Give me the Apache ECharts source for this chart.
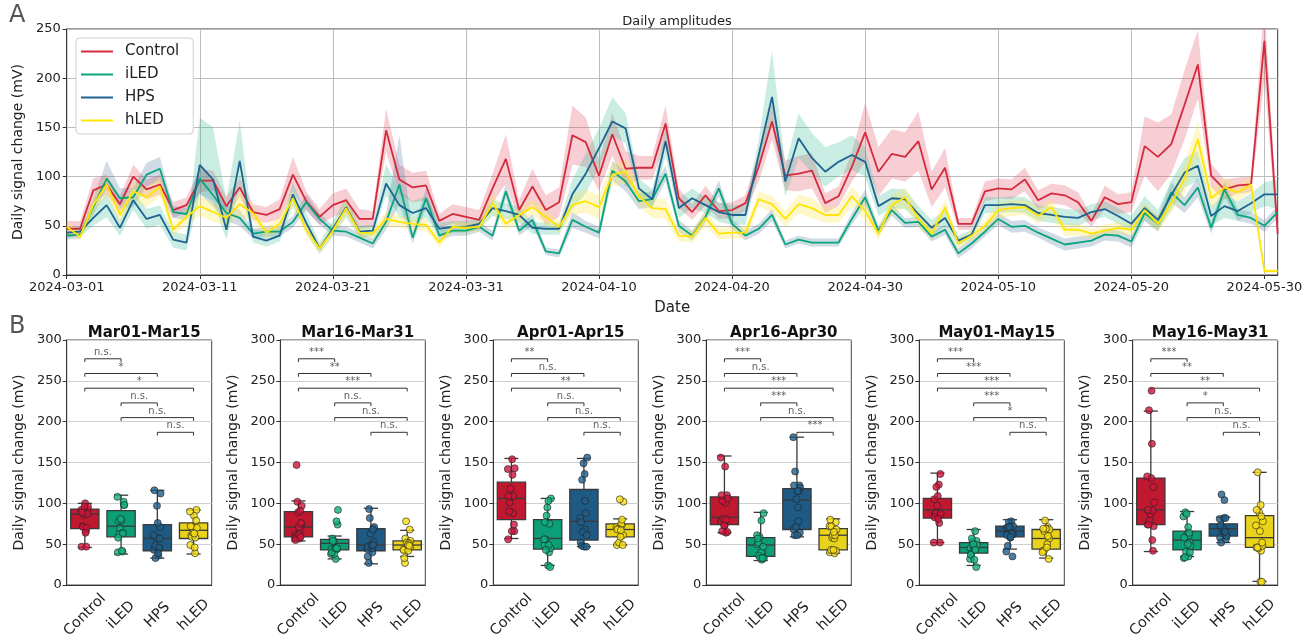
<!DOCTYPE html>
<html><head><meta charset="utf-8">
<script src="https://cdn.jsdelivr.net/npm/echarts@6/dist/echarts.min.js"></script>
<style>html,body{margin:0;padding:0;background:#fff}#c{width:1315px;height:641px}</style>
</head><body><div id="c"></div>
<script>
// ---------------- DATA ----------------
const startDate = '2024-03-01';
const nDays = 92;
const groups = ['Control', 'iLED', 'HPS', 'hLED'];

const ctl = [47,47,86,92,72,100,87,92,66,71, 96,96,70,89,64,61,67,102,75,59, 71,76,57,57,147,97,89,91,55,62,
  59,56,88,118,66,90,66,74,142,135, 101,143,108,109,109,154,78,64,81,65, 66,73,110,156,101,103,106,73,80,110,
  145,105,123,120,136,87,109,52,52,85, 88,87,97,76,83,81,74,55,79,72, 74,131,120,133,173,214,101,87,91,92, 238,42];
const iled = [40,41,69,98,78,79,102,108,64,62, 98,81,63,58,42,44,44,54,74,57, 45,44,38,32,54,92,38,78,40,45,
  45,49,40,85,45,56,24,22,56,49, 43,106,95,75,77,103,50,40,59,88, 52,40,47,61,31,36,33,33,33,57,
  79,45,66,53,54,39,46,22,32,44, 57,49,50,43,37,31,33,35,41,40, 34,63,52,84,71,89,48,87,61,58, 50,64];
const hps = [43,44,58,71,48,76,57,61,36,33, 112,97,46,116,39,35,40,82,53,27, 47,69,44,45,93,71,63,68,47,49,
  49,52,68,65,61,48,47,47,82,103, 129,156,149,88,77,136,68,78,71,64, 61,61,122,181,95,139,119,105,115,122,
  115,70,78,77,62,48,58,35,41,71, 71,72,71,63,61,59,58,64,67,60, 52,68,56,81,104,111,60,70,65,73, 82,82];
const hled = [49,39,71,92,61,85,79,90,46,59, 70,64,58,72,63,43,52,78,46,27, 45,68,43,42,57,54,52,51,33,49,
  48,49,73,52,61,69,59,49,71,75, 69,102,105,80,68,67,40,39,58,42, 43,43,77,72,57,72,68,61,61,80,
  65,42,71,79,57,42,69,32,40,50, 66,68,69,60,69,46,46,42,45,48, 46,66,52,73,98,138,78,89,84,92, 4,4];

// confidence band offsets (below / above the mean)
const ctlErr = [8,8,12,10,8,12,10,10,8,8, 12,10,10,10,8,8,10,18,10,8, 12,12,10,8,22,15,15,15,7,10,
  10,10,15,25,10,18,15,15,30,25, 15,22,18,12,12,18,10,8,10,8, 8,8,15,18,15,18,18,10,10,15,
  30,25,25,25,30,18,20,6,6,10, 10,10,12,10,10,10,10,6,12,10, 10,30,35,30,35,35,12,10,8,8, 40,10];
const iledErrLo = [4,4,8,10,10,10,12,12,6,6, 15,12,8,8,5,5,5,6,8,6, 5,5,5,5,8,20,6,10,5,5,
  5,5,5,8,5,6,4,4,8,6, 6,10,10,8,8,8,6,5,6,8, 5,5,5,6,4,4,4,4,4,6,
  8,5,6,5,5,5,5,5,5,5, 6,6,6,5,6,6,6,6,6,6, 6,8,8,10,8,10,6,8,6,6, 6,6];
const iledErrHi = [4,4,8,18,10,10,12,12,6,6, 15,12,8,8,5,5,5,6,8,6, 5,5,5,5,8,50,6,10,5,5,
  5,5,5,8,5,6,4,4,8,6, 6,10,10,8,8,8,6,5,6,8, 5,5,5,6,4,4,4,4,4,6,
  8,5,6,5,5,5,5,5,5,5, 6,6,6,5,6,6,6,6,6,6, 6,8,8,10,8,10,6,8,6,6, 6,6];
const hpsErrLo = [5,5,8,12,8,10,10,10,8,8, 30,22,10,25,6,6,6,12,10,6, 8,10,6,6,12,12,10,10,6,6,
  6,6,8,8,8,6,6,6,15,20, 20,15,15,10,10,15,10,10,8,10, 10,10,15,26,15,20,15,15,15,15,
  15,10,10,10,8,8,8,5,5,8, 8,8,8,8,8,8,8,8,8,8, 8,12,10,15,15,15,10,12,10,10, 12,15];
const hpsErrHi = [5,5,8,12,8,10,10,10,8,8, 48,53,30,41,8,8,8,12,10,6, 8,10,6,6,20,15,12,12,6,6,
  6,6,8,8,8,6,6,6,15,20, 20,25,15,10,10,15,10,10,8,10, 10,10,15,47,15,25,25,25,20,20,
  15,10,10,10,8,8,8,5,5,8, 8,8,8,8,8,8,8,8,8,8, 8,12,10,15,15,15,10,12,10,10, 12,15];
const hledErr = [6,5,8,10,8,10,10,10,6,8, 10,10,8,12,8,6,8,8,6,5, 6,8,5,5,8,6,6,6,5,5,
  5,5,10,6,8,8,8,6,10,12, 12,12,12,10,10,10,6,6,8,6, 6,6,8,8,8,10,10,8,8,10,
  10,6,10,10,8,6,8,5,5,6, 8,8,8,8,8,6,6,5,6,6, 6,8,8,10,15,18,10,10,8,8, 2,2];

// half-month periods
const periods = ['Mar01-Mar15', 'Mar16-Mar31', 'Apr01-Apr15', 'Apr16-Apr30', 'May01-May15', 'May16-May31'];
const periodStart = [0, 15, 31, 46, 61, 76];
const periodEnd = [15, 31, 46, 61, 76, 92];

// box statistics [min whisker, Q1, median, Q3, max whisker] per period
const boxCtl = [[46,69,87,93,100],[54,59,71,90,103],[57,80,106,126,155],[64,74,83,108,158],[52,82,92,106,137],[41,74,92,131,213]];
const boxIled = [[38,59,72,91,110],[32,43,51,56,60],[24,44,57,80,106],[30,35,49,58,89],[24,39,46,52,68],[35,43,55,66,90]];
const boxHps = [[33,42,57,74,116],[26,42,49,69,94],[47,55,78,117,155],[59,68,104,118,181],[44,59,66,72,80],[52,60,69,75,83]];
const boxHled = [[38,57,67,76,92],[35,43,49,54,67],[49,59,68,75,81],[39,43,61,69,81],[33,44,57,68,80],[4.5,46,58,85,138]];

// significance labels: pairs C-i, C-H, C-h, i-H, i-h, H-h
const sigLabels = [
  ['n.s.','*','*','n.s.','n.s.','n.s.'],
  ['***','**','***','n.s.','n.s.','n.s.'],
  ['**','n.s.','**','n.s.','n.s.','n.s.'],
  ['***','n.s.','***','***','n.s.','***'],
  ['***','***','***','***','*','n.s.'],
  ['***','**','**','*','n.s.','n.s.']
];

// ---------------- BUILD ----------------
const dates = [];
{
  const t0 = Date.parse(startDate + 'T00:00:00Z');
  for (let i = 0; i < nDays; i++) dates.push(new Date(t0 + i * 86400000).toISOString().slice(0, 10));
}
const FONT = 'DejaVu Sans';
const lineColors = ['#d42a3c', '#08a67c', '#1f6391', '#ffe500'];
const bandColors = ['rgba(225,80,100,0.28)', 'rgba(70,110,150,0.25)', 'rgba(40,185,140,0.25)', 'rgba(250,230,90,0.32)'];
const boxColors = ['#c0182f', '#0b9e77', '#1f5a84', '#e8d21c'];
const ptColors = ['#d0143a', '#10b07f', '#1f5e8a', '#f7dd10'];
const EDGE = '#3a3a3a';
const vals = [ctl, iled, hps, hled];
const errLo = [ctlErr, iledErrLo, hpsErrLo, hledErr];
const errHi = [ctlErr, iledErrHi, hpsErrHi, hledErr];
const boxes = [boxCtl, boxIled, boxHps, boxHled];

const grid = [{left: 66.7, top: 29, width: 1211, height: 246, show: true, borderColor: '#333', borderWidth: 1}];
const xAxis = [{
  gridIndex: 0, type: 'category', data: dates, boundaryGap: false,
  name: 'Date', nameLocation: 'middle', nameGap: 26, nameTextStyle: {fontSize: 15, color: '#222', fontFamily: FONT},
  axisLine: {lineStyle: {color: '#333'}},
  axisTick: {interval: (i) => i % 10 === 0, length: 4, lineStyle: {color: '#333'}},
  axisLabel: {interval: (i) => i % 10 === 0, fontSize: 13, color: '#222', margin: 6, fontFamily: FONT},
  splitLine: {show: true, interval: (i) => i % 10 === 0, lineStyle: {color: '#bdbdbd', width: 1}}
}];
const yAxis = [{
  gridIndex: 0, type: 'value', min: 0, max: 250, interval: 50,
  name: 'Daily signal change (mV)', nameLocation: 'middle', nameGap: 40,
  nameTextStyle: {fontSize: 14, color: '#222', fontFamily: FONT},
  axisLine: {show: true, onZero: false, lineStyle: {color: '#333'}},
  axisTick: {show: true, length: 4, lineStyle: {color: '#333'}},
  axisLabel: {fontSize: 13, color: '#222', margin: 6, fontFamily: FONT},
  splitLine: {lineStyle: {color: '#bdbdbd', width: 1}}
}];
const series = [];
// bands (lower edge + stacked span)
for (let g = 0; g < 4; g++) {
  const lo = vals[g].map((v, i) => v - errLo[g][i]);
  const span = vals[g].map((v, i) => errLo[g][i] + errHi[g][i]);
  series.push({type: 'line', name: 'band' + g, stack: 'band' + g, data: lo, symbol: 'none', silent: true,
    lineStyle: {opacity: 0}, xAxisIndex: 0, yAxisIndex: 0, z: 1});
  series.push({type: 'line', name: 'band' + g, stack: 'band' + g, data: span, symbol: 'none', silent: true,
    lineStyle: {opacity: 0}, areaStyle: {color: bandColors[g], opacity: 1}, xAxisIndex: 0, yAxisIndex: 0, z: 1});
}
for (let g = 0; g < 4; g++) {
  series.push({type: 'line', name: groups[g], data: vals[g], symbol: 'none', showSymbol: false, xAxisIndex: 0, yAxisIndex: 0,
    lineStyle: {color: lineColors[g], width: 1.8}, itemStyle: {color: lineColors[g]}, z: 3});
}

// bottom panels
const panelLeft = [66.7, 280.3, 493.3, 706.3, 919.3, 1132.7];
const PW = 145;
const pairs = [[0,1],[0,2],[0,3],[1,2],[1,3],[2,3]];
const levels = [277, 259, 241, 223, 205, 187];
const JIT = [-0.09,0.04,-0.03,0.08,-0.06,0.01,0.07,-0.1,0.03,-0.05,0.09,-0.01,0.05,-0.08,0.02,0.06];
const titles = [{text: 'Daily amplitudes', left: 672, top: 10, textAlign: 'center',
  textStyle: {fontSize: 13, fontWeight: 'normal', color: '#222', fontFamily: FONT}}];

function renderBox(params, api) {
  const x = api.value(0);
  const pMin = api.coord([x, api.value(1)]);
  const pQ1 = api.coord([x, api.value(2)]);
  const pMed = api.coord([x, api.value(3)]);
  const pQ3 = api.coord([x, api.value(4)]);
  const pMax = api.coord([x, api.value(5)]);
  const w = api.size([0.78, 0])[0];
  const cw = w / 2;
  const cx = pMin[0];
  const st = {stroke: EDGE, lineWidth: 1.3};
  return {type: 'group', children: [
    {type: 'line', shape: {x1: cx, y1: pMin[1], x2: cx, y2: pQ1[1]}, style: st},
    {type: 'line', shape: {x1: cx, y1: pQ3[1], x2: cx, y2: pMax[1]}, style: st},
    {type: 'line', shape: {x1: cx - cw / 2, y1: pMin[1], x2: cx + cw / 2, y2: pMin[1]}, style: st},
    {type: 'line', shape: {x1: cx - cw / 2, y1: pMax[1], x2: cx + cw / 2, y2: pMax[1]}, style: st},
    {type: 'rect', shape: {x: cx - w / 2, y: pQ3[1], width: w, height: pQ1[1] - pQ3[1]},
      style: {fill: boxColors[params.dataIndex], stroke: EDGE, lineWidth: 1.3}},
    {type: 'line', shape: {x1: cx - w / 2, y1: pMed[1], x2: cx + w / 2, y2: pMed[1]}, style: st}
  ]};
}

for (let k = 0; k < 6; k++) {
  const gi = k + 1;
  grid.push({left: panelLeft[k], top: 340, width: PW, height: 246, show: true, borderColor: '#444', borderWidth: 1});
  const cxi = xAxis.length;
  xAxis.push({gridIndex: gi, type: 'category', data: groups,
    axisLine: {onZero: false, lineStyle: {color: '#333'}},
    axisTick: {alignWithLabel: true, length: 4, lineStyle: {color: '#333'}},
    axisLabel: {rotate: 45, align: 'center', verticalAlign: 'middle', margin: 30, fontSize: 14.5, color: '#222', fontFamily: FONT},
    splitLine: {show: false}});
  const vx = xAxis.length;
  xAxis.push({gridIndex: gi, type: 'value', min: -0.5, max: 3.5, show: false});
  const yi = yAxis.length;
  yAxis.push({gridIndex: gi, type: 'value', min: 0, max: 300, interval: 50,
    name: 'Daily signal change (mV)', nameLocation: 'middle', nameGap: 40,
    nameTextStyle: {fontSize: 14, color: '#222', fontFamily: FONT},
    axisLine: {show: true, onZero: false, lineStyle: {color: '#333'}},
    axisTick: {show: true, length: 4, lineStyle: {color: '#333'}},
    axisLabel: {fontSize: 13, color: '#222', margin: 5, fontFamily: FONT},
    splitLine: {lineStyle: {color: '#cfcfcf', width: 1}}});
  titles.push({text: periods[k], left: panelLeft[k] + PW / 2, top: 321, textAlign: 'center',
    textStyle: {fontSize: 15, fontWeight: 'bold', color: '#111', fontFamily: FONT}});

  series.push({type: 'custom', xAxisIndex: vx, yAxisIndex: yi, z: 2, silent: true,
    renderItem: renderBox, encode: {x: 0, y: [1, 2, 3, 4, 5]},
    data: groups.map((g, i) => [i].concat(boxes[i][k]))});

  const pts = [];
  for (let g = 0; g < 4; g++) {
    for (let d = periodStart[k]; d < periodEnd[k]; d++) {
      pts.push({value: [g + JIT[d - periodStart[k]], vals[g][d]], itemStyle: {color: ptColors[g]}});
    }
  }
  series.push({type: 'scatter', xAxisIndex: vx, yAxisIndex: yi, data: pts, symbolSize: 7, z: 4,
    itemStyle: {borderColor: '#222', borderWidth: 0.8}});

  const labs = [];
  pairs.forEach((p, j) => {
    const a = p[0], b = p[1], lv = levels[j];
    series.push({type: 'line', xAxisIndex: vx, yAxisIndex: yi, symbol: 'none', silent: true, z: 3,
      data: [[a, lv - 4], [a, lv], [b, lv], [b, lv - 4]], lineStyle: {color: '#333', width: 1}});
    labs.push({value: [(a + b) / 2, lv], label: {formatter: sigLabels[k][j]}});
  });
  series.push({type: 'scatter', xAxisIndex: vx, yAxisIndex: yi, data: labs, symbolSize: 1, silent: true,
    itemStyle: {color: 'rgba(0,0,0,0)'}, z: 3,
    label: {show: true, position: 'top', distance: 1, fontSize: 10, color: '#333', fontFamily: FONT}});
}

const option = {
  animation: false,
  backgroundColor: '#fff',
  textStyle: {fontFamily: FONT},
  title: titles,
  legend: {
    data: groups, orient: 'vertical', left: 76, top: 38, itemWidth: 32, itemHeight: 2, itemGap: 8,
    icon: 'rect',
    backgroundColor: '#fff', borderColor: '#cfcfcf', borderWidth: 1, borderRadius: 4, padding: [6, 14, 6, 5],
    textStyle: {fontSize: 15, color: '#222', fontFamily: FONT, padding: [0, 0, 0, 7], lineHeight: 15, height: 15}
  },
  graphic: [
    {type: 'text', left: 9, top: 4, style: {text: 'A', fontSize: 24, fill: '#555', fontFamily: FONT}},
    {type: 'text', left: 9, top: 315, style: {text: 'B', fontSize: 24, fill: '#555', fontFamily: FONT}}
  ],
  grid, xAxis, yAxis, series
};
echarts.init(document.getElementById('c'), null, {renderer: 'canvas'}).setOption(option);
</script>
</body></html>
